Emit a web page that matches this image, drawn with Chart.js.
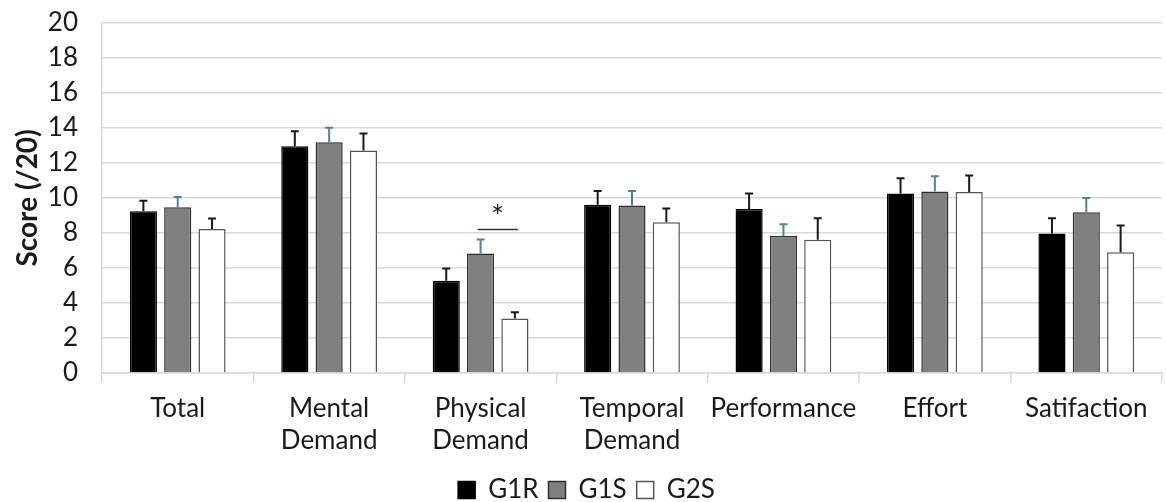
<!DOCTYPE html>
<html>
<head>
<meta charset="utf-8">
<script src="https://cdn.jsdelivr.net/npm/chart.js@4.4.1/dist/chart.umd.min.js"></script>
<style>
  html, body { margin: 0; padding: 0; background: #fff; }
  #wrap { width: 1166px; height: 502px; position: relative; }
</style>
</head>
<body>
<div id="wrap"><canvas id="chart"></canvas></div>
<script>
// Categories and series
const categories = [
  'Total', ['Mental', 'Demand'], ['Physical', 'Demand'], ['Temporal', 'Demand'],
  'Performance', 'Effort', 'Satifaction'
];
const seriesNames = ['G1R', 'G1S', 'G2S'];

const g1r = [9.23, 12.94, 5.27, 9.61, 9.37, 10.25, 7.97];
const g1s = [9.46, 13.18, 6.82, 9.56, 7.82, 10.37, 9.18];
const g2s = [8.23, 12.71, 3.12, 8.61, 7.61, 10.33, 6.89];

// upper error (SD) for each bar
const g1rErr = [0.61, 0.86, 0.70, 0.78, 0.88, 0.87, 0.87];
const g1sErr = [0.59, 0.83, 0.81, 0.83, 0.68, 0.87, 0.81];
const g2sErr = [0.59, 0.96, 0.35, 0.78, 1.23, 0.94, 1.53];

const yTicks = [0, 2, 4, 6, 8, 10, 12, 14, 16, 18, 20];

// significance mark: category index, between series 1 and 2, at this y value
const sigCategory = 2;
const sigFrom = 1;
const sigTo = 2;
const sigLevel = 8.2;
const sigLabel = '*';

const FONT = 'Lato, "Open Sans", sans-serif';
const TEXT = '#1a1a1a';

// Draws the top-only error bars and the significance bar
const errorBarPlugin = {
  id: 'errorBars',
  afterDatasetsDraw(chart) {
    const ctx = chart.ctx;
    const y = chart.scales.y;
    chart.data.datasets.forEach((ds, i) => {
      const meta = chart.getDatasetMeta(i);
      meta.data.forEach((bar, j) => {
        const top = y.getPixelForValue(ds.data[j] + ds.errors[j]);
        ctx.save();
        ctx.strokeStyle = ds.errorColor;
        ctx.lineWidth = 2;
        ctx.beginPath();
        ctx.moveTo(bar.x, bar.y);
        ctx.lineTo(bar.x, top);
        ctx.moveTo(bar.x - 4, top);
        ctx.lineTo(bar.x + 4, top);
        ctx.stroke();
        ctx.restore();
      });
    });

    const a = chart.getDatasetMeta(sigFrom).data[sigCategory];
    const b = chart.getDatasetMeta(sigTo).data[sigCategory];
    const ly = y.getPixelForValue(sigLevel);
    ctx.save();
    ctx.strokeStyle = '#333';
    ctx.lineWidth = 1.5;
    ctx.beginPath();
    ctx.moveTo(a.x - 3, ly);
    ctx.lineTo(b.x + 3, ly);
    ctx.stroke();
    ctx.fillStyle = TEXT;
    ctx.font = '30px ' + FONT;
    ctx.textAlign = 'center';
    ctx.textBaseline = 'middle';
    ctx.fillText(sigLabel, (a.x + b.x) / 2, ly - 12);
    ctx.restore();
  }
};

const ctx = document.getElementById('chart').getContext('2d');
new Chart(ctx, {
  type: 'bar',
  data: {
    labels: categories,
    datasets: [
      { label: seriesNames[0], data: g1r, errors: g1rErr, errorColor: '#1a1a1a',
        backgroundColor: '#000000', borderColor: '#000000', borderWidth: 1.5 },
      { label: seriesNames[1], data: g1s, errors: g1sErr, errorColor: '#4a8696',
        backgroundColor: '#808080', borderColor: '#2e2e2e', borderWidth: 1.5 },
      { label: seriesNames[2], data: g2s, errors: g2sErr, errorColor: '#1a1a1a',
        backgroundColor: '#ffffff', borderColor: '#555555', borderWidth: 1.5 }
    ]
  },
  options: {
    responsive: true,
    maintainAspectRatio: false,
    animation: false,
    layout: { padding: { top: 0, right: 4, left: 11, bottom: -11 } },
    datasets: {
      bar: { categoryPercentage: 0.68, barPercentage: 0.79 }
    },
    scales: {
      y: {
        min: 0,
        max: 20,
        afterBuildTicks(axis) { axis.ticks = yTicks.map(v => ({ value: v })); },
        afterFit(axis) { axis.width = 91; axis.paddingTop = 22.7; },
        grid: { color: '#d9d9d9', lineWidth: 1.5, drawTicks: false },
        border: { display: true, color: '#d9d9d9', width: 1.5 },
        ticks: { color: TEXT, padding: 24, autoSkip: false, font: { family: FONT, size: 26, lineHeight: 1.2 } },
        title: {
          display: true, text: 'Score (/20)', color: TEXT,
          font: { family: FONT, size: 28, weight: 'bold' }, padding: { top: 0, bottom: 0 }
        }
      },
      x: {
        grid: { offset: true, drawOnChartArea: false, color: '#d9d9d9', lineWidth: 1.5, tickLength: 10 },
        border: { display: true, color: '#d9d9d9', width: 1.5 },
        ticks: { color: TEXT, padding: 10, maxRotation: 0, font: { family: FONT, size: 26, lineHeight: 1.23 } }
      }
    },
    plugins: {
      legend: {
        position: 'bottom',
        labels: {
          color: TEXT,
          boxWidth: 17,
          boxHeight: 17,
          padding: 10,
          font: { family: FONT, size: 26 }
        }
      },
      tooltip: { enabled: false }
    }
  },
  plugins: [errorBarPlugin]
});
</script>
</body>
</html>
